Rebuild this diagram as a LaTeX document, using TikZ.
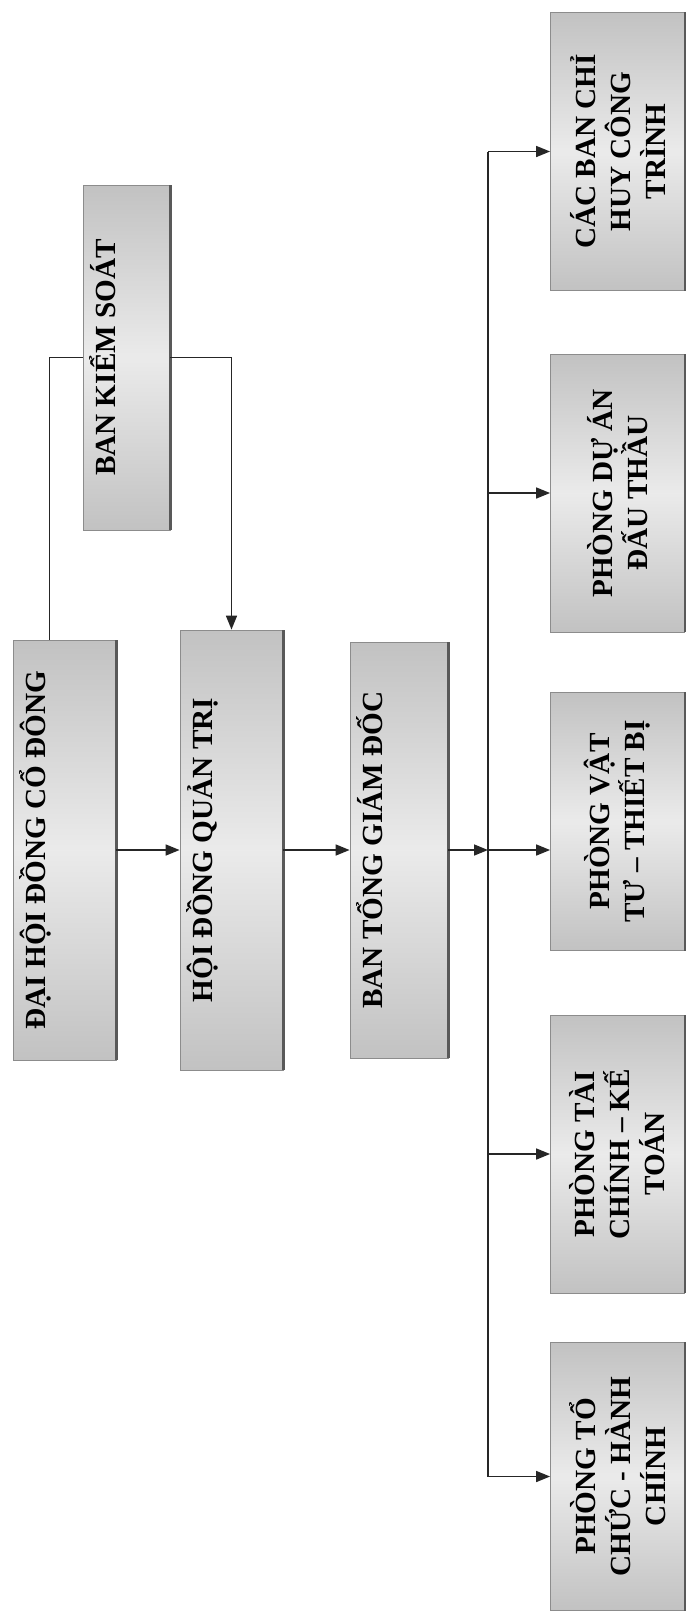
\documentclass[tikz,border=0pt]{standalone}
\usepackage{fontspec}
\setmainfont{Liberation Serif}
\usetikzlibrary{arrows.meta}
\usetikzlibrary{calc}
\usetikzlibrary{positioning}
\definecolor{boxedge}{gray}{0.55}
\definecolor{boxdark}{gray}{0.76}
\definecolor{boxlight}{gray}{0.92}
\definecolor{boxshade}{gray}{0.35}
\tikzset{
  box/.style={rotate=90, draw=boxedge, top color=boxdark, bottom color=boxdark, middle color=boxlight, font=\bfseries\fontsize{14.6}{17.5}\selectfont},
  leftbox/.style={box, inner xsep=4pt, inner ysep=4pt, text height=12pt},
  rightbox/.style={box, align=center, minimum width=139pt, minimum height=67pt, inner sep=3pt},
  link/.style={draw=black!85, line width=0.8pt},
  arr/.style={link, -{Triangle[length=7pt,width=5.5pt]}}
}
\begin{document}
\begin{tikzpicture}[x=0.5pt, y=-0.5pt]
    \useasboundingbox (0,0) rectangle (687,1617);
    % left column
    \node[leftbox, minimum width=210pt, text depth=31.5pt] (dhcd) at (64.5,850) {ĐẠI HỘI ĐỒNG CỔ ĐÔNG};
    \node[leftbox, minimum width=172.5pt, text depth=23.5pt] (bks) at (126.5,357.5) {BAN KIỂM SOÁT};
    \node[leftbox, minimum width=220pt, text depth=31.5pt] (hdqt) at (231.5,850) {HỘI ĐỒNG QUẢN TRỊ};
    \node[leftbox, minimum width=208pt, text depth=29pt] (btgd) at (399,850) {BAN TỔNG GIÁM ĐỐC};
    % departments
    \node[rightbox] (cb) at (617.5,151.5) {CÁC BAN CHỈ\\HUY CÔNG\\TRÌNH};
    \node[rightbox] (da) at (617.5,493) {PHÒNG DỰ ÁN\\ĐẤU THẦU};
    \node[rightbox, minimum width=129pt] (vt) at (617.5,821.5) {PHÒNG VẬT\\TƯ – THIẾT BỊ};
    \node[rightbox] (tc) at (617.5,1154) {PHÒNG TÀI\\CHÍNH – KẾ\\TOÁN};
    \node[rightbox, minimum width=134pt] (tchc) at (617.5,1476.5) {PHÒNG TỔ\\CHỨC - HÀNH\\CHÍNH};
    % dark right edges
    \foreach \n in {dhcd,bks,hdqt,btgd,cb,da,vt,tc,tchc}
      \draw[boxshade, line width=1.2pt] (\n.south west) -- (\n.south east);
    % connectors
    \draw[link] (dhcd.east) ++(-15,0) |- (bks.north);
    \draw[arr] (bks.south) -| (hdqt.east);
    \draw[arr] (dhcd.south) -- (hdqt.north);
    \draw[arr] (hdqt.south) -- (btgd.north);
    \coordinate (bus) at (488,850);
    \draw[arr] (btgd.south) -- (bus);
    \draw[link] (bus |- cb.north) -- (bus |- tchc.north);
    \draw[arr] (bus |- cb.north) -- (cb.north);
    \draw[arr] (bus |- da.north) -- (da.north);
    \draw[arr] (bus) -- (vt.north |- bus);
    \draw[arr] (bus |- tc.north) -- (tc.north);
    \draw[arr] (bus |- tchc.north) -- (tchc.north);
\end{tikzpicture}
\end{document}
